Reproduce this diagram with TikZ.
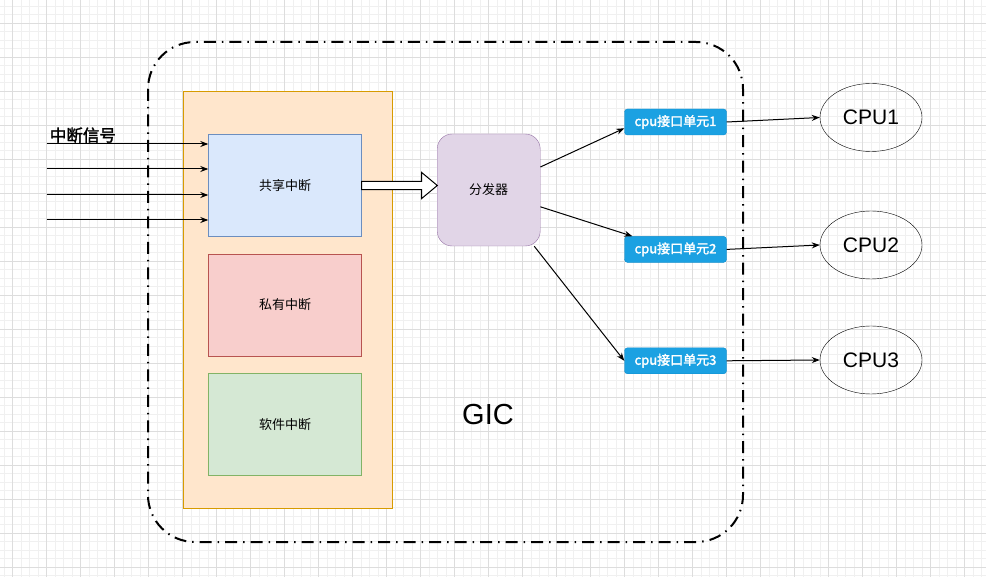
\documentclass[tikz,border=0pt]{standalone}
\usepackage{fontspec}
\setmainfont{Liberation Sans}
\newfontfamily\cjk[AutoFakeBold=2]{Noto Sans CJK SC}
\usetikzlibrary{arrows.meta,positioning,shapes.geometric}
\definecolor{gridminor}{HTML}{F0F0F0}
\definecolor{gridmajor}{HTML}{DDDDDD}
\definecolor{orangefill}{HTML}{FFE6CC}
\definecolor{orangeline}{HTML}{D79B00}
\definecolor{bluefill}{HTML}{DAE8FC}
\definecolor{blueline}{HTML}{6C8EBF}
\definecolor{redfill}{HTML}{F8CECC}
\definecolor{redline}{HTML}{B85450}
\definecolor{greenfill}{HTML}{D5E8D4}
\definecolor{greenline}{HTML}{82B366}
\definecolor{purplefill}{HTML}{E1D5E7}
\definecolor{purpleline}{HTML}{9673A6}
\definecolor{unitfill}{HTML}{1BA1E2}
\definecolor{unitline}{HTML}{0E8CCB}
\begin{document}
\begin{tikzpicture}[x=1pt,y=-1pt,
  irqbox/.style={draw,minimum width=153pt,minimum height=102pt,inner sep=0pt,font=\cjk\fontsize{13}{15}\selectfont},
  unitbox/.style={draw=unitline,fill=unitfill,rounded corners=3pt,minimum width=102pt,minimum height=26pt,inner sep=0pt,text=white,font=\cjk\bfseries\fontsize{13}{15}\selectfont},
  cpunode/.style={draw,ellipse,minimum width=102pt,minimum height=68pt,font=\fontsize{21}{24}\selectfont},
  wire/.style={line width=1pt,arrows={-Stealth[length=8pt,width=6pt]}}]
\useasboundingbox (0,0) rectangle (986,577);
\fill[white] (0,0) rectangle (986,577);
% background grid
\foreach \x in {4.2,12.7,...,986}
  \draw[gridminor,line width=1pt] (\x,0) -- (\x,577);
\foreach \y in {6.3,14.8,...,577}
  \draw[gridminor,line width=1pt] (0,\y) -- (986,\y);
\foreach \x in {12.7,46.7,...,986}
  \draw[gridmajor,line width=1pt] (\x,0) -- (\x,577);
\foreach \y in {23.3,57.3,...,577}
  \draw[gridmajor,line width=1pt] (0,\y) -- (986,\y);
% GIC frame
\draw[line width=2pt,dash pattern=on 12pt off 6pt on 1.5pt off 6pt,rounded corners=47pt] (148,42) rectangle (743,542);
\node[font=\fontsize{29}{32}\selectfont] (giclabel) at (488,415) {GIC};
% interrupt sources
\node[draw=orangeline,fill=orangefill,minimum width=209pt,minimum height=416.6pt,inner sep=0pt] (irqgroup) at (287.2,300) {};
\node[irqbox,draw=blueline,fill=bluefill] (shared) at (285,185.5) {共享中断};
\node[irqbox,draw=redline,fill=redfill,below=17pt of shared] (private) {私有中断};
\node[irqbox,draw=greenline,fill=greenfill,below=17pt of private] (soft) {软件中断};
\foreach \y [count=\i] in {144,169,195,220}{
  \coordinate (in\i) at (46.7,\y);
  \draw[wire] (in\i) -- (in\i -| shared.west);
}
\node[anchor=south west,inner sep=1pt,font=\cjk\bfseries\fontsize{16.5}{18}\selectfont] (irqlabel) at ([xshift=2pt]in1) {中断信号};
% distributor
\node[draw=purpleline,fill=purplefill,rounded corners=15pt,minimum width=103pt,minimum height=112pt,font=\cjk\fontsize{13}{15}\selectfont] (dist) at (488.7,190) {分发器};
\draw[fill=white,line width=1pt] (shared.east) ++(0,-4.2) -- ++(60,0) -- ++(0,-8.8) -- ++(15.6,13) -- ++(-15.6,13) -- ++(0,-8.8) -- ++(-60,0) -- cycle;
% cpu interfaces
\node[unitbox] (unitA) at (675.5,122) {cpu接口单元1};
\node[unitbox,below=101pt of unitA] (unitB) {cpu接口单元2};
\node[unitbox,below=85pt of unitB] (unitC) {cpu接口单元3};
\node[cpunode] (cpuA) at (871,117.5) {CPU1};
\node[cpunode] (cpuB) at (871,245) {CPU2};
\node[cpunode] (cpuC) at (871,360) {CPU3};
\draw[wire] (dist.24) -- (unitA.187);
\draw[wire] (dist.-18) -- (unitB.163);
\draw[wire] (dist.-51) -- (unitC.west);
\draw[wire] (unitA.east) -- (cpuA.west);
\draw[wire] (unitB.east) -- (cpuB.west);
\draw[wire] (unitC.east) -- (cpuC.west);
\end{tikzpicture}
\end{document}
